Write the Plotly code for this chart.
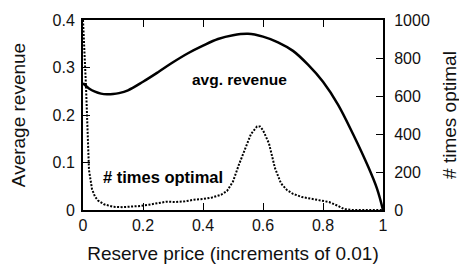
import plotly.graph_objects as go

# Average revenue (left axis)
rev_x = [0.00, 0.02, 0.04, 0.06, 0.08, 0.10, 0.12, 0.15, 0.20, 0.25, 0.30, 0.35, 0.40, 0.45,
         0.50, 0.55, 0.60, 0.65, 0.70, 0.75, 0.80, 0.85, 0.90, 0.95, 0.98, 1.00]
rev_y = [0.267, 0.256, 0.249, 0.245, 0.2435, 0.244, 0.246, 0.252, 0.270, 0.290, 0.311, 0.330,
         0.346, 0.360, 0.368, 0.371, 0.365, 0.353, 0.335, 0.306, 0.270, 0.222, 0.160, 0.092,
         0.045, 0.0]

# Number of times optimal (right axis)
opt_x = [0.00, 0.01, 0.02, 0.03, 0.04, 0.05, 0.07, 0.10, 0.13, 0.16, 0.19, 0.22, 0.25, 0.28,
         0.31, 0.34, 0.37, 0.40, 0.43, 0.46, 0.48, 0.50, 0.52, 0.54, 0.56, 0.58, 0.59, 0.60,
         0.62, 0.64, 0.66, 0.68, 0.70, 0.73, 0.76, 0.79, 0.82, 0.85, 0.87, 0.90, 1.00]
opt_y = [1000, 650, 210, 110, 70, 50, 30, 17, 15, 17, 21, 28, 36, 44,
         42, 46, 54, 58, 66, 80, 100, 150, 240, 320, 400, 440, 440, 420,
         350, 220, 140, 105, 85, 68, 58, 50, 42, 22, 5, 0, 0]

left_ticks = [0, 0.1, 0.2, 0.3, 0.4]
left_labels = ["0", "0.1", "0.2", "0.3", "0.4"]
right_ticks = [0, 200, 400, 600, 800, 1000]
x_ticks = [0, 0.2, 0.4, 0.6, 0.8, 1]
x_labels = ["0", "0.2", "0.4", "0.6", "0.8", "1"]

FONT = "Liberation Sans"

fig = go.Figure()
fig.add_trace(go.Scatter(x=rev_x, y=rev_y, mode="lines", line=dict(color="black", width=2.5, shape="spline"),
                         yaxis="y", showlegend=False))
fig.add_trace(go.Scatter(x=opt_x, y=opt_y, mode="lines", line=dict(color="black", width=2, dash="2px,1.5px"),
                         yaxis="y2", showlegend=False))

fig.add_annotation(x=0.523, y=0.274, xref="x", yref="y", text="<b>avg. revenue</b>", showarrow=False,
                   font=dict(family=FONT, size=15.5, color="black"))
fig.add_annotation(x=0.268, y=0.069, xref="x", yref="y", text="<b># times optimal</b>", showarrow=False,
                   font=dict(family=FONT, size=16.5, color="black"))

# The page body has an 8px margin, so the figure is drawn 8px in from the top-left corner.
fig.update_layout(
    width=459, height=256,
    margin=dict(l=75, r=84, t=12, b=54),
    paper_bgcolor="white", plot_bgcolor="white",
    font=dict(family=FONT, size=16, color="#111111"),
    xaxis=dict(range=[0, 1], tickvals=x_ticks, ticktext=x_labels, ticks="inside", ticklen=7,
               tickcolor="black", showline=True, linecolor="black", linewidth=2, mirror="ticks",
               showgrid=False, zeroline=False, automargin=False,
               title=dict(text="Reserve price (increments of 0.01)", standoff=16)),
    yaxis=dict(range=[0, 0.4], tickvals=left_ticks, ticktext=left_labels, ticks="inside", ticklen=7,
               tickcolor="black", showline=True, linecolor="black", linewidth=2,
               showgrid=False, zeroline=False, automargin=False, ticklabelstandoff=3,
               title=dict(text="Average revenue", standoff=41)),
    yaxis2=dict(range=[0, 1000], tickvals=right_ticks, ticks="inside", ticklen=7, overlaying="y", side="right",
                tickcolor="black", showline=True, linecolor="black", linewidth=2,
                showgrid=False, zeroline=False, automargin=False, ticklabelstandoff=6,
                title=dict(text="# times optimal", standoff=14)),
)

fig.write_html("out.html")
